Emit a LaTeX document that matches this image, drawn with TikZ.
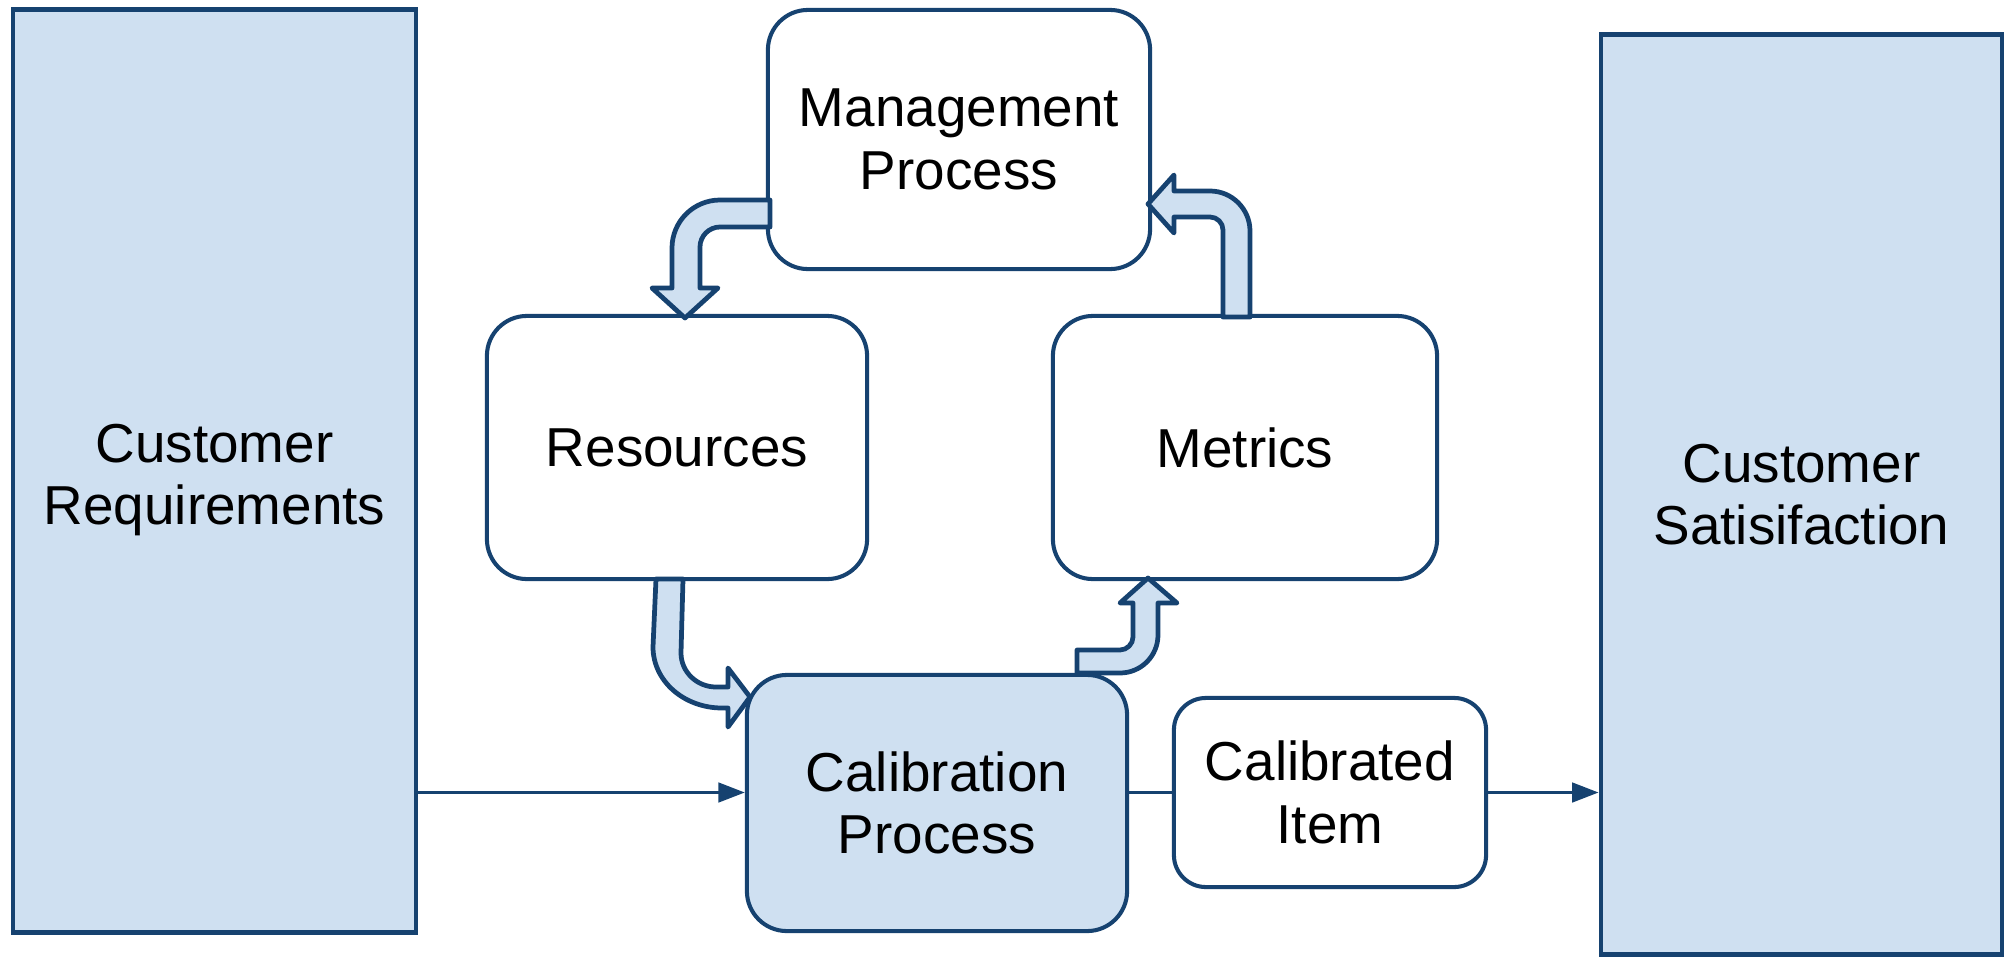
\documentclass[tikz,border=0pt]{standalone}
\usepackage{fontspec}
\setmainfont{Liberation Sans}
\usetikzlibrary{arrows.meta}
\definecolor{navy}{RGB}{22,66,112}
\definecolor{lblue}{RGB}{207,224,241}
\begin{document}
\begin{tikzpicture}[x=0.01cm,y=-0.01cm,
  txt/.style={align=center, inner sep=0pt, text=black, font=\fontsize{15.6}{17.8}\selectfont},
  bigbox/.style={txt, draw=navy, fill=lblue, line width=1.3pt},
  rbox/.style={txt, draw=navy, fill=white, line width=1.15pt, rounded corners=0.4cm},
  blockarrow/.style={draw=navy, fill=lblue, line width=1.35pt, line join=round},
  conn/.style={draw=navy, line width=0.95pt},
  tip/.style={-{Triangle[length=7.5pt,width=5.5pt]}}]
\useasboundingbox (0,0) rectangle (2008,957);
% boxes
\node[bigbox, minimum width=4.03cm, minimum height=9.22cm] (cr) at (214.5,471) {};
\node[txt] (crt) at ([yshift=-0.09cm]cr.center) {Customer\\Requirements};
\node[bigbox, minimum width=4.01cm, minimum height=9.19cm] (cs) at (1801.5,494.5) {Customer\\Satisifaction};
\node[rbox, minimum width=3.82cm, minimum height=2.59cm] (mp) at (959,139.5) {Management\\Process};
\node[rbox, minimum width=3.80cm, minimum height=2.63cm] (res) at (677,447.5) {Resources};
\node[rbox, minimum width=3.84cm, minimum height=2.63cm] (met) at (1245,447.5) {Metrics};
\node[rbox, fill=lblue, minimum width=3.80cm, minimum height=2.56cm] (cp) at (937,803) {Calibration\\Process};
\node[rbox, rounded corners=0.32cm, minimum width=3.12cm, minimum height=1.89cm] (ci) at (1330,792.5) {Calibrated\\Item};
% connectors
\draw[conn,tip] (ci.west -| cr.east) -- (ci.west -| cp.west);
\draw[conn] (ci.west -| cp.east) -- (ci.west);
\draw[conn,tip] (ci.east) -- (ci.east -| cs.west);
% block arrows
% Management -> Resources
\draw[blockarrow] (770,200) -- (720,200) .. controls (693.5,200) and (672,221.5) .. (672,248)
  -- (672,288) -- (652,288) -- (685,318) -- (718,288) -- (700,288) -- (700,247)
  .. controls (700,236) and (709,227) .. (720,227) -- (770,227) -- cycle;
% Metrics -> Management
\draw[blockarrow] (1223,317) -- (1223,230) .. controls (1223,222.8) and (1217.2,217) .. (1210,217)
  -- (1174,217) -- (1174,233) -- (1148,204) -- (1174,175) -- (1174,191) -- (1210,191)
  .. controls (1232,191) and (1250,209) .. (1250,231) -- (1250,317) -- cycle;
% Resources -> Calibration
\draw[blockarrow] (656,579) -- (653,647) .. controls (653,681) and (684,708) .. (722,708)
  -- (728,708) -- (728,727) -- (750,697) -- (728,668) -- (728,687) -- (716,687)
  .. controls (697,687) and (681,672) .. (681,653) -- (683,579) -- cycle;
% Calibration -> Metrics
\draw[blockarrow] (1077,673) -- (1120,673) .. controls (1141,673) and (1158,656) .. (1158,635)
  -- (1158,603) -- (1177,603) -- (1148,578) -- (1120,603) -- (1133,603) -- (1133,637)
  .. controls (1133,644) and (1127,650) .. (1120,650) -- (1077,650) -- cycle;
\end{tikzpicture}
\end{document}
